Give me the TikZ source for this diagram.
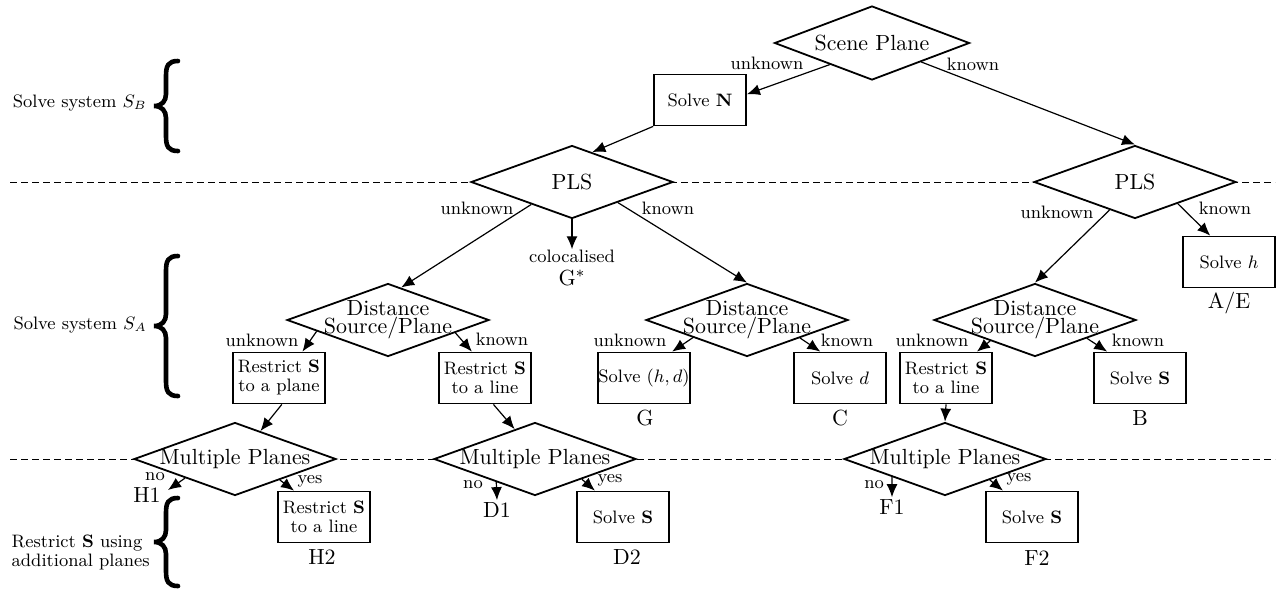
\documentclass[tikz,border=0pt]{standalone}
\usetikzlibrary{shapes.geometric,arrows.meta,calc}
\newcommand{\bigf}{\fontsize{10.95}{9.2}\selectfont}
\newcommand{\smallf}{\fontsize{9}{9.5}\selectfont}
\begin{document}
\begin{tikzpicture}[x=0.5pt,y=-0.5pt,
  dia/.style={diamond,draw,fill=white,line width=0.9pt,inner sep=0pt,minimum width=101pt,minimum height=36.5pt},
  dtext/.style={font=\bigf,align=center,inner sep=0pt},
  box/.style={rectangle,draw,fill=white,line width=0.9pt,inner sep=0pt,minimum width=46pt,minimum height=25.5pt,font=\smallf,align=center},
  lbl/.style={font=\smallf,inner sep=0pt},
  tag/.style={font=\bigf,inner sep=1pt},
  conn/.style={-{Latex[length=6.5pt,width=5.5pt]},line width=0.6pt},
  sepline/.style={dash pattern=on 3.5pt off 2pt,line width=0.5pt},
  bracestroke/.style={line width=2.3pt,line cap=round}]
\useasboundingbox (0,0) rectangle (1278,591);
% separators
\coordinate (s1a) at (10,182); \coordinate (s1b) at (1275,182);
\coordinate (s2a) at (10,459); \coordinate (s2b) at (1275,459);
\draw[sepline] (s1a) -- (s1b);
\draw[sepline] (s2a) -- (s2b);
% diamonds
\node[dia,minimum width=97.5pt,minimum height=37pt] (sp) at (872,43) {};
\node[dtext] (spt) at (sp) {Scene Plane};
\node[dia] (pls1) at (572,182) {};
\node[dtext] (pls1t) at (pls1) {PLS};
\node[dia] (pls2) at (1135,182) {};
\node[dtext] (pls2t) at (pls2) {PLS};
\node[dia] (dist1) at (388,320) {};
\node[dtext] (dist1t) at (dist1) {Distance\\Source/Plane};
\node[dia] (dist2) at (747,320) {};
\node[dtext] (dist2t) at (dist2) {Distance\\Source/Plane};
\node[dia] (dist3) at (1035,320) {};
\node[dtext] (dist3t) at (dist3) {Distance\\Source/Plane};
\node[dia] (mp1) at (235,459) {};
\node[dtext] (mp1t) at (mp1) {Multiple Planes};
\node[dia] (mp2) at (535,459) {};
\node[dtext] (mp2t) at (mp2) {Multiple Planes};
\node[dia] (mp3) at (945,459) {};
\node[dtext] (mp3t) at (mp3) {Multiple Planes};
% boxes
\node[box] (solveN) at (700,100) {Solve $\mathbf{N}$};
\node[box] (rp) at (279,378) {Restrict $\mathbf{S}$\\to a plane};
\node[box] (rl1) at (485,378) {Restrict $\mathbf{S}$\\to a line};
\node[box] (shd) at (644,378) {Solve $(h,d)$};
\node[box] (sd) at (840,378) {Solve $d$};
\node[box] (rl2) at (946,378) {Restrict $\mathbf{S}$\\to a line};
\node[box] (sSB) at (1140,378) {Solve $\mathbf{S}$};
\node[box] (sh) at (1229,262) {Solve $h$};
\node[box] (rlH) at (324,517) {Restrict $\mathbf{S}$\\to a line};
\node[box] (sD) at (623,517) {Solve $\mathbf{S}$};
\node[box] (sF) at (1032,517) {Solve $\mathbf{S}$};
% tags
\node[lbl] (col) at (572,256) {colocalised};
\node[tag] (gstar) at (572,278) {G$^*$};
\node[tag] (tG) at (645,418) {G};
\node[tag] (tC) at (840,418) {C};
\node[tag] (tB) at (1140,418) {B};
\node[tag] (tAE) at (1229,303) {A/E};
\node[tag] (tH1) at (147,495) {H1};
\node[tag] (tD1) at (497,510) {D1};
\node[tag] (tF1) at (892,507) {F1};
\node[tag] (tH2) at (322,557) {H2};
\node[tag] (tD2) at (627,557) {D2};
\node[tag] (tF2) at (1037,558) {F2};
\coordinate (h1end) at (168,490);
% connectors
\draw[conn] ($(sp.west)!0.57!(sp.south)$) -- (solveN.7);
\draw[conn] ($(sp.south)!0.5!(sp.east)$) -- (pls2.north);
\draw[conn] (solveN.south west) -- ($(pls1.north)!0.2!(pls1.east)$);
\draw[conn] ($(pls1.west)!0.6!(pls1.south)$) -- ($(dist1.north)!0.13!(dist1.east)$);
\draw[conn] (pls1.south) -- (col.north);
\draw[conn] ($(pls1.south)!0.45!(pls1.east)$) -- (dist2.north);
\draw[conn] ($(pls2.west)!0.75!(pls2.south)$) -- (dist3.north);
\draw[conn] ($(pls2.south)!0.42!(pls2.east)$) -- ($(sh.north west)!0.3!(sh.north east)$);
\draw[conn] ($(dist1.west)!0.3!(dist1.south)$) -- ($(rp.north west)!0.75!(rp.north east)$);
\draw[conn] ($(dist1.south)!0.66!(dist1.east)$) -- ($(rl1.north west)!0.36!(rl1.north east)$);
\draw[conn] ($(dist2.west)!0.47!(dist2.south)$) -- ($(shd.north west)!0.8!(shd.north east)$);
\draw[conn] ($(dist2.south)!0.52!(dist2.east)$) -- ($(sd.north west)!0.29!(sd.north east)$);
\draw[conn] ($(dist3.west)!0.56!(dist3.south)$) -- ($(rl2.north west)!0.83!(rl2.north east)$);
\draw[conn] ($(dist3.south)!0.51!(dist3.east)$) -- ($(sSB.north west)!0.15!(sSB.north east)$);
\draw[conn] ($(rp.south west)!0.53!(rp.south east)$) -- ($(mp1.north)!0.25!(mp1.east)$);
\draw[conn] ($(rl1.south west)!0.59!(rl1.south east)$) -- ($(mp2.west)!0.8!(mp2.north)$);
\draw[conn] (rl2.south) -- (mp3.north);
\draw[conn] ($(mp1.west)!0.51!(mp1.south)$) -- (h1end);
\draw[conn] ($(mp1.south)!0.44!(mp1.east)$) -- ($(rlH.north west)!0.18!(rlH.north east)$);
\draw[conn] ($(mp2.west)!0.62!(mp2.south)$) -- (tD1.north);
\draw[conn] ($(mp2.south)!0.46!(mp2.east)$) -- ($(sD.north west)!0.2!(sD.north east)$);
\draw[conn] ($(mp3.west)!0.48!(mp3.south)$) -- (tF1.north);
\draw[conn] ($(mp3.south)!0.44!(mp3.east)$) -- ($(sF.north west)!0.19!(sF.north east)$);
% connector labels
\node[lbl] (l1) at (767,63) {unknown};
\node[lbl] (l2) at (973,64) {known};
\node[lbl] (l3) at (477,208) {unknown};
\node[lbl] (l4) at (668,208) {known};
\node[lbl] (l5) at (1057,212) {unknown};
\node[lbl] (l6) at (1225,208) {known};
\node[lbl] (l7) at (262,340) {unknown};
\node[lbl] (l8) at (502,339) {known};
\node[lbl] (l9) at (630,340) {unknown};
\node[lbl] (l10) at (847,340) {known};
\node[lbl] (l11) at (932,340) {unknown};
\node[lbl] (l12) at (1138,340) {known};
\node[lbl] (l13) at (155,477) {no};
\node[lbl] (l14) at (310,481) {yes};
\node[lbl] (l15) at (473,485) {no};
\node[lbl] (l16) at (610,480) {yes};
\node[lbl] (l17) at (874,485) {no};
\node[lbl] (l18) at (1019,479) {yes};
% left side
\node[lbl,anchor=east] (txB) at (147,103) {Solve system $S_B$};
\node[lbl,anchor=east] (txA) at (147,325) {Solve system $S_A$};
\node[lbl,anchor=east,align=left] (txC) at (150,552) {Restrict \textbf{S} using\\additional planes};
% braces
\draw[bracestroke] (178,61) .. controls (168,61) and (166,66) .. (166,76) -- (166,94)
  .. controls (166,101) and (162,106) .. (154,106)
  .. controls (162,106) and (166,111) .. (166,118) -- (166,136)
  .. controls (166,146) and (168,151) .. (178,151);
\draw[bracestroke] (178,256) .. controls (168,256) and (166,261) .. (166,271) -- (166,314)
  .. controls (166,321) and (162,326) .. (154,326)
  .. controls (162,326) and (166,331) .. (166,338) -- (166,381)
  .. controls (166,391) and (168,396) .. (178,396);
\draw[bracestroke] (178,498) .. controls (168,498) and (166,503) .. (166,513) -- (166,530)
  .. controls (166,537) and (162,542) .. (154,542)
  .. controls (162,542) and (166,547) .. (166,554) -- (166,571)
  .. controls (166,581) and (168,586) .. (178,586);
\end{tikzpicture}
\end{document}
